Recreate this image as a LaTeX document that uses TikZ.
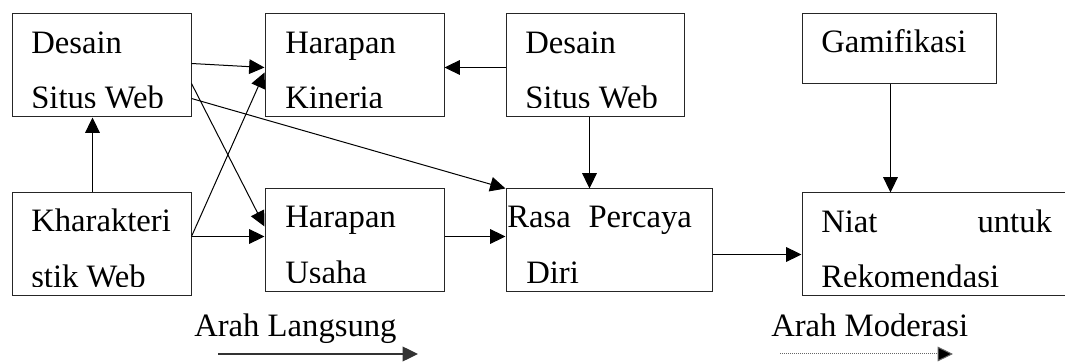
\documentclass[tikz,border=0pt]{standalone}
\usepackage{fontspec}
\setmainfont{Liberation Serif}
\usetikzlibrary{arrows.meta,calc,fit}

\tikzset{
  box/.style={draw=black!85, line width=0.75pt, rectangle, inner sep=0pt, fit={#1}},
  txt/.style={anchor=base west, inner sep=0pt, text=black,
              font=\fontsize{24.5}{29}\selectfont},
  link/.style={-{Triangle[length=11.5pt,width=11pt]}, line width=0.75pt, draw=black},
  solidkey/.style={-{Triangle[length=11.5pt,width=11pt]}, line width=1pt, draw=black!80},
  dotkey/.style={-{Triangle[length=11.5pt,width=11pt,fill=black]}, line width=0.75pt,
                 draw=black!60, dash pattern=on 0.75pt off 0.75pt},
}

% clip the text of a box a little above its bottom edge
\newcommand{\boxclip}[1]{\clip (#1.north west) rectangle ($(#1.south east)+(0,-10)$);}

\begin{document}
\begin{tikzpicture}[x=0.75pt, y=-0.75pt]
  \fill[white] (0,0) rectangle (1065,363);
  \useasboundingbox (0,0) rectangle (1065,363);

  % boxes
  \node[box={(12,14) (191,117)}]   (b1) {};
  \node[box={(265,14) (444,117)}]  (b2) {};
  \node[box={(506,14) (684,117)}]  (b3) {};
  \node[box={(802,14) (996,84)}]   (b4) {};
  \node[box={(12,193) (191,296)}]  (b5) {};
  \node[box={(265,189) (444,292)}] (b6) {};
  \node[box={(506,189) (712,292)}] (b7) {};
  \node[box={(802,193) (1068,296)}] (b8) {};

  % box texts
  \begin{scope}\boxclip{b1}
    \node[txt] (t1a) at (31,54) {Desain};
    \node[txt] (t1b) at (31,108.5) {Situs Web};
  \end{scope}
  \begin{scope}\boxclip{b2}
    \node[txt] (t2a) at (285,54) {Harapan};
    \node[txt] (t2b) at (285,108.5) {Kineria};
  \end{scope}
  \begin{scope}\boxclip{b3}
    \node[txt] (t3a) at (525,54) {Desain};
    \node[txt] (t3b) at (525,108.5) {Situs Web};
  \end{scope}
  \node[txt] (t4a) at (821,53) {Gamifikasi};
  \begin{scope}\boxclip{b5}
    \node[txt] (t5a) at (31,232) {Kharakteri};
    \node[txt] (t5b) at (31,287.5) {stik Web};
  \end{scope}
  \begin{scope}\boxclip{b6}
    \node[txt] (t6a) at (285,228) {Harapan};
    \node[txt] (t6b) at (285,283.5) {Usaha};
  \end{scope}
  \begin{scope}\boxclip{b7}
    \node[txt] (t7a) at (507,228) {\makebox[138.5pt][s]{Rasa Percaya}};
    \node[txt] (t7b) at (526,283.5) {Diri};
  \end{scope}
  \begin{scope}\boxclip{b8}
    \node[txt] (t8a) at (821,233) {\makebox[173pt][s]{Niat untuk}};
    \node[txt] (t8b) at (821,287.5) {Rekomendasi};
  \end{scope}

  % connectors
  \draw[link] ($(b1.north east)+(0,50)$) -- ($(b2.north west)+(0,54)$);
  \draw[link] ($(b1.north east)+(0,70)$) -- ($(b6.north west)+(0,38)$);
  \draw[link] ($(b1.north east)+(0,85)$) -- (b7.north west);
  \draw[link] ($(b5.north east)+(0,44)$) -- ($(b2.north west)+(0,59)$);
  \draw[link] ($(b5.north east)+(0,44)$) -- ($(b6.north west)+(0,48)$);
  \draw[link] ($(b5.north west)+(81,0)$) -- ($(b1.south west)+(81,0)$);
  \draw[link] ($(b3.north west)+(0,54)$) -- ($(b2.north east)+(0,54)$);
  \draw[link] ($(b3.south west)+(84,0)$) -- ($(b7.north west)+(84,0)$);
  \draw[link] ($(b6.north east)+(0,48)$) -- ($(b7.north west)+(0,48)$);
  \draw[link] ($(b7.north east)+(0,66)$) -- ($(b8.north west)+(0,62)$);
  \draw[link] ($(b4.south west)+(89,0)$) -- ($(b8.north west)+(89,0)$);

  % key
  \node[txt] (k1) at (194,337) {Arah Langsung};
  \node[txt] (k2) at (771,337) {Arah Moderasi};
  \coordinate (k1s) at (218,354);
  \coordinate (k1e) at (418,354);
  \coordinate (k2s) at (780,354);
  \coordinate (k2e) at (953,354);
  \draw[solidkey] (k1s) -- (k1e);
  \draw[dotkey] (k2s) -- (k2e);
\end{tikzpicture}
\end{document}
